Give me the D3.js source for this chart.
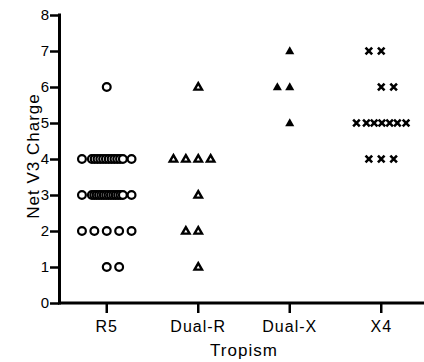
<!DOCTYPE html>
<html>
<head>
<meta charset="utf-8">
<script src="https://cdn.jsdelivr.net/npm/d3@7"></script>
<style>
  body { margin: 0; background: #fff; }
  text { font-family: "Liberation Sans", Arial, sans-serif; fill: #000; }
</style>
</head>
<body>
<svg id="chart" width="424" height="362"></svg>
<script>
// tropism groups and their net V3 charge values (one entry per isolate)
var categories = ["R5", "Dual-R", "Dual-X", "X4"];
var r5Charge = [6,
  4, 4, 4, 4, 4, 4, 4, 4, 4, 4, 4, 4, 4, 4,
  3, 3, 3, 3, 3, 3, 3, 3, 3, 3, 3, 3, 3, 3, 3, 3,
  2, 2, 2, 2, 2,
  1, 1];
var dualRCharge = [6, 4, 4, 4, 4, 3, 2, 2, 1];
var dualXCharge = [7, 6, 6, 5];
var x4Charge = [7, 7, 6, 6, 5, 5, 5, 5, 5, 5, 5, 4, 4, 4];
var yTicks = [0, 1, 2, 3, 4, 5, 6, 7, 8];

var groups = [r5Charge, dualRCharge, dualXCharge, x4Charge];
var symbols = ["circle", "triangleOpen", "triangle", "cross"];
// rows with an even count that lean right instead of left
var leanRight = {"R5|1": true, "X4|6": true};

var svg = d3.select("#chart");

var x = d3.scaleBand().domain(categories).range([61, 427]);
var y = d3.scaleLinear().domain([0, 8]).range([303, 15]);
var slot = 12.4;

// spread points that share a value sideways, Prism style
var points = [];
groups.forEach(function(vals, gi) {
  var cat = categories[gi];
  var rows = d3.group(vals, function(v) { return v; });
  rows.forEach(function(list, v) {
    var n = list.length;
    var offs = [];
    if (n <= 5) {
      var start = -Math.floor(n / 2);
      if (n % 2 == 0 && leanRight[cat + "|" + v]) start += 1;
      for (var i = 0; i < n; i++) offs.push((start + i) * slot);
    } else {
      offs.push(-2 * slot);
      var inner = d3.scaleLinear().domain([0, n - 3]).range([-1.2 * slot, 1.3 * slot]);
      for (var i = 0; i < n - 2; i++) offs.push(inner(i));
      offs.push(2 * slot);
    }
    offs.forEach(function(o) {
      points.push({cat: cat, value: v, dx: o, sym: symbols[gi]});
    });
  });
});

// axes
var yAxis = d3.axisLeft(y).tickValues(yTicks).tickSize(9).tickSizeOuter(0).tickPadding(1);
var gy = svg.append("g").attr("transform", "translate(59,0)").call(yAxis);
gy.select(".domain").remove();
gy.selectAll(".tick line").attr("stroke", "#000").attr("stroke-width", 2.5);
gy.selectAll(".tick text").attr("font-size", 15).attr("font-family", "Liberation Sans, Arial, sans-serif");

var xAxis = d3.axisBottom(x).tickSize(10).tickSizeOuter(0);
var gx = svg.append("g").attr("transform", "translate(0,303)").call(xAxis);
gx.select(".domain").remove();
gx.selectAll(".tick line").attr("stroke", "#000").attr("stroke-width", 2.5);
gx.selectAll(".tick text")
  .attr("font-size", 16)
  .attr("font-family", "Liberation Sans, Arial, sans-serif")
  .attr("letter-spacing", "1px")
  .attr("y", 29).attr("dy", 0);

svg.append("line")
  .attr("x1", 59.5).attr("x2", 59.5)
  .attr("y1", y(0)).attr("y2", y(8))
  .attr("stroke", "#000").attr("stroke-width", 3).attr("stroke-linecap", "square");
svg.append("line")
  .attr("x1", 58).attr("x2", 424)
  .attr("y1", y(0)).attr("y2", y(0))
  .attr("stroke", "#000").attr("stroke-width", 3);

// axis titles
svg.append("text")
  .attr("transform", "translate(39," + ((y(0) + y(8)) / 2 - 3) + ") rotate(-90)")
  .attr("text-anchor", "middle")
  .attr("font-size", 17)
  .attr("letter-spacing", "1px")
  .text("Net V3 Charge");

svg.append("text")
  .attr("x", (x.range()[0] + x.range()[1]) / 2)
  .attr("y", 356)
  .attr("text-anchor", "middle")
  .attr("font-size", 17)
  .attr("letter-spacing", "1px")
  .text("Tropism");

// markers
var tri = d3.symbol().type(d3.symbolTriangle);
var cx = function(d) { return x(d.cat) + x.bandwidth() / 2 + d.dx; };

var pts = svg.append("g").selectAll("g").data(points).enter().append("g")
  .attr("transform", function(d) { return "translate(" + cx(d) + "," + y(d.value) + ")"; });

pts.filter(function(d) { return d.sym == "circle"; })
  .append("circle").attr("r", 3.9)
  .attr("fill", "#fff").attr("stroke", "#000").attr("stroke-width", 2.2);

pts.filter(function(d) { return d.sym == "triangleOpen"; })
  .append("path").attr("d", tri.size(24)())
  .attr("transform", "translate(0,0.5)")
  .attr("fill", "#fff").attr("stroke", "#000").attr("stroke-width", 2.4)
  .attr("stroke-linejoin", "miter");

pts.filter(function(d) { return d.sym == "triangle"; })
  .append("path").attr("d", tri.size(36)())
  .attr("transform", "translate(0,0.5)")
  .attr("fill", "#000");

pts.filter(function(d) { return d.sym == "cross"; })
  .append("path").attr("d", "M-3.3,-3.3L3.3,3.3M-3.3,3.3L3.3,-3.3")
  .attr("fill", "none").attr("stroke", "#000").attr("stroke-width", 2.6);
</script>
</body>
</html>
